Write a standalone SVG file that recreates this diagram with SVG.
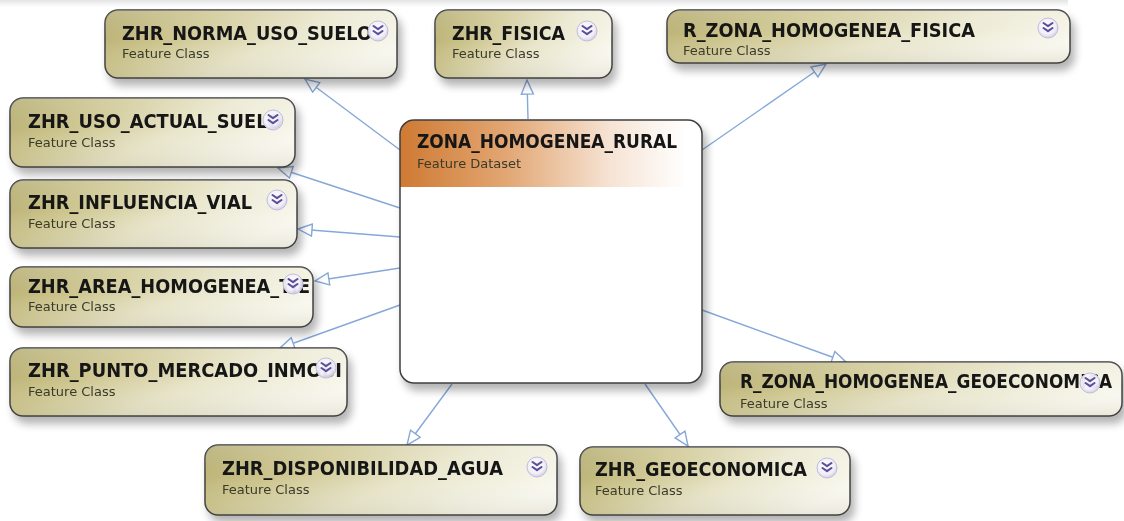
<svg xmlns="http://www.w3.org/2000/svg" width="1124" height="521" viewBox="0 0 1124 521">
  <defs>
    <style>
      .box { stroke: #3f3f3f; stroke-width: 1.5; }
      .cls { fill: url(#classFill); }
      .title { font-family: "DejaVu Sans", "Liberation Sans", sans-serif; font-weight: bold; font-size: 19.5px; fill: #151515; }
      .sub { font-family: "DejaVu Sans", "Liberation Sans", sans-serif; font-size: 13px; fill: #3a3a2a; }
      .edge { fill: none; stroke: #86a8d8; stroke-width: 1.4; marker-end: url(#hollow); }
    </style>
    <linearGradient id="classFill" x1="0" y1="0.1" x2="1" y2="0.6">
      <stop offset="0" stop-color="#b0a766"/>
      <stop offset="0.3" stop-color="#cdc58e"/>
      <stop offset="0.62" stop-color="#e9e6cc"/>
      <stop offset="1" stop-color="#faf9f1"/>
    </linearGradient>
    <linearGradient id="classShade" x1="0" y1="0" x2="0" y2="1">
      <stop offset="0" stop-color="#ffffff" stop-opacity="0.25"/>
      <stop offset="0.45" stop-color="#ffffff" stop-opacity="0"/>
      <stop offset="1" stop-color="#6b6330" stop-opacity="0.12"/>
    </linearGradient>
    <linearGradient id="headFill" x1="0" y1="0" x2="1" y2="0">
      <stop offset="0" stop-color="#cf7a33"/>
      <stop offset="0.35" stop-color="#e2a673"/>
      <stop offset="0.7" stop-color="#f6e4d5"/>
      <stop offset="0.95" stop-color="#ffffff"/>
    </linearGradient>
    <radialGradient id="knob" cx="0.45" cy="0.4" r="0.6">
      <stop offset="0" stop-color="#ffffff"/>
      <stop offset="0.7" stop-color="#f1eff8"/>
      <stop offset="1" stop-color="#d3cde8"/>
    </radialGradient>
    <linearGradient id="topBand" x1="0" y1="0" x2="0" y2="1">
      <stop offset="0" stop-color="#e4e4e4"/>
      <stop offset="1" stop-color="#ffffff"/>
    </linearGradient>
    <filter id="shadow" x="-10%" y="-20%" width="125%" height="160%">
      <feGaussianBlur in="SourceAlpha" stdDeviation="4"/>
      <feOffset dx="4" dy="7" result="b"/>
      <feComponentTransfer><feFuncA type="linear" slope="0.3"/></feComponentTransfer>
      <feMerge><feMergeNode/><feMergeNode in="SourceGraphic"/></feMerge>
    </filter>
    <marker id="hollow" markerUnits="userSpaceOnUse" markerWidth="18" markerHeight="16" viewBox="0 0 18 16" refX="15" refY="7" orient="auto">
      <path d="M1,1 L15,7 L1,13 Z" fill="#ffffff" stroke="#86a8d8" stroke-width="1.4" stroke-linejoin="miter"/>
    </marker>
    <g id="expander">
      <circle r="10" fill="url(#knob)" fill-opacity="0.95" stroke="#c3bddd" stroke-width="1"/>
      <path d="M-4.5,-5 L0,-1.8 L4.5,-5 M-4.5,0 L0,3.2 L4.5,0" fill="none" stroke="#5c4f9c" stroke-width="2.1" stroke-linecap="round" stroke-linejoin="round"/>
    </g>
  </defs>

  <rect x="0" y="0" width="1124" height="521" fill="#ffffff"/>
  <rect x="0" y="0" width="1068" height="7" fill="url(#topBand)"/>

  <!-- connectors from the dataset to each feature class -->
  <g id="connectors">
    <line class="edge" x1="400" y1="150" x2="305" y2="79"/>
    <line class="edge" x1="528" y1="119" x2="527" y2="80"/>
    <line class="edge" x1="702" y1="150" x2="826" y2="64"/>
    <line class="edge" x1="400" y1="208" x2="278" y2="168"/>
    <line class="edge" x1="400" y1="237" x2="298" y2="229"/>
    <line class="edge" x1="400" y1="268" x2="315" y2="281"/>
    <line class="edge" x1="400" y1="305" x2="280" y2="348"/>
    <line class="edge" x1="702" y1="310" x2="846" y2="362"/>
    <line class="edge" x1="452" y1="384" x2="407" y2="445"/>
    <line class="edge" x1="645" y1="384" x2="688" y2="446"/>
  </g>

  <!-- feature dataset -->
  <g id="zona_homogenea_rural" filter="url(#shadow)">
    <rect x="400" y="120" width="302" height="263" rx="14" fill="#ffffff"/>
    <path d="M414,120 H688 A14,14 0 0 1 702,134 V187 H400 V134 A14,14 0 0 1 414,120 Z" fill="url(#headFill)"/>
    <rect class="box" x="400" y="120" width="302" height="263" rx="14" fill="none"/>
    <text class="title" x="417" y="148" textLength="260" lengthAdjust="spacingAndGlyphs">ZONA_HOMOGENEA_RURAL</text>
    <text class="sub" x="417" y="168">Feature Dataset</text>
  </g>

  <g id="zhr_norma_uso_suelo" filter="url(#shadow)">
    <rect class="box cls" x="105" y="10" width="292" height="68" rx="13"/>
    <rect x="105" y="10" width="292" height="68" rx="13" fill="url(#classShade)"/>
    <text class="title" x="122" y="40" textLength="250" lengthAdjust="spacingAndGlyphs">ZHR_NORMA_USO_SUELO</text>
    <text class="sub" x="122" y="58">Feature Class</text>
    <use href="#expander" x="378" y="31"/>
  </g>

  <g id="zhr_fisica" filter="url(#shadow)">
    <rect class="box cls" x="435" y="10" width="177" height="68" rx="13"/>
    <rect x="435" y="10" width="177" height="68" rx="13" fill="url(#classShade)"/>
    <text class="title" x="452" y="40" textLength="113" lengthAdjust="spacingAndGlyphs">ZHR_FISICA</text>
    <text class="sub" x="452" y="58">Feature Class</text>
    <use href="#expander" x="587" y="31"/>
  </g>

  <g id="r_zona_homogenea_fisica" filter="url(#shadow)">
    <rect class="box cls" x="667" y="10" width="403" height="53" rx="13"/>
    <rect x="667" y="10" width="403" height="53" rx="13" fill="url(#classShade)"/>
    <text class="title" x="683" y="37" textLength="292" lengthAdjust="spacingAndGlyphs">R_ZONA_HOMOGENEA_FISICA</text>
    <text class="sub" x="683" y="55">Feature Class</text>
    <use href="#expander" x="1048" y="28"/>
  </g>

  <g id="zhr_uso_actual_suelo" filter="url(#shadow)">
    <rect class="box cls" x="10" y="98" width="285" height="69" rx="13"/>
    <rect x="10" y="98" width="285" height="69" rx="13" fill="url(#classShade)"/>
    <text class="title" x="28" y="128" textLength="254" lengthAdjust="spacingAndGlyphs">ZHR_USO_ACTUAL_SUELO</text>
    <text class="sub" x="28" y="147">Feature Class</text>
    <use href="#expander" x="273" y="120"/>
  </g>

  <g id="zhr_influencia_vial" filter="url(#shadow)">
    <rect class="box cls" x="10" y="180" width="287" height="68" rx="13"/>
    <rect x="10" y="180" width="287" height="68" rx="13" fill="url(#classShade)"/>
    <text class="title" x="28" y="209" textLength="224" lengthAdjust="spacingAndGlyphs">ZHR_INFLUENCIA_VIAL</text>
    <text class="sub" x="28" y="228">Feature Class</text>
    <use href="#expander" x="277" y="200"/>
  </g>

  <g id="zhr_area_homogenea" filter="url(#shadow)">
    <rect class="box cls" x="10" y="267" width="303" height="60" rx="13"/>
    <rect x="10" y="267" width="303" height="60" rx="13" fill="url(#classShade)"/>
    <text class="title" x="28" y="293" textLength="282" lengthAdjust="spacingAndGlyphs">ZHR_AREA_HOMOGENEA_TIE</text>
    <text class="sub" x="28" y="311">Feature Class</text>
    <use href="#expander" x="293" y="284"/>
  </g>

  <g id="zhr_punto_mercado_inmobi" filter="url(#shadow)">
    <rect class="box cls" x="10" y="348" width="337" height="68" rx="13"/>
    <rect x="10" y="348" width="337" height="68" rx="13" fill="url(#classShade)"/>
    <text class="title" x="28" y="377" textLength="314" lengthAdjust="spacingAndGlyphs">ZHR_PUNTO_MERCADO_INMOBI</text>
    <text class="sub" x="28" y="396">Feature Class</text>
    <use href="#expander" x="326" y="368"/>
  </g>

  <g id="r_zona_homogenea_geoeconomica" filter="url(#shadow)">
    <rect class="box cls" x="720" y="362" width="402" height="54" rx="13"/>
    <rect x="720" y="362" width="402" height="54" rx="13" fill="url(#classShade)"/>
    <text class="title" x="740" y="388" textLength="372" lengthAdjust="spacingAndGlyphs">R_ZONA_HOMOGENEA_GEOECONOMICA</text>
    <text class="sub" x="740" y="408">Feature Class</text>
    <use href="#expander" x="1090" y="383"/>
  </g>

  <g id="zhr_disponibilidad_agua" filter="url(#shadow)">
    <rect class="box cls" x="205" y="445" width="352" height="70" rx="13"/>
    <rect x="205" y="445" width="352" height="70" rx="13" fill="url(#classShade)"/>
    <text class="title" x="222" y="475" textLength="281" lengthAdjust="spacingAndGlyphs">ZHR_DISPONIBILIDAD_AGUA</text>
    <text class="sub" x="222" y="494">Feature Class</text>
    <use href="#expander" x="537" y="467"/>
  </g>

  <g id="zhr_geoeconomica" filter="url(#shadow)">
    <rect class="box cls" x="580" y="447" width="270" height="68" rx="13"/>
    <rect x="580" y="447" width="270" height="68" rx="13" fill="url(#classShade)"/>
    <text class="title" x="595" y="476" textLength="212" lengthAdjust="spacingAndGlyphs">ZHR_GEOECONOMICA</text>
    <text class="sub" x="595" y="495">Feature Class</text>
    <use href="#expander" x="827" y="468"/>
  </g>
</svg>
